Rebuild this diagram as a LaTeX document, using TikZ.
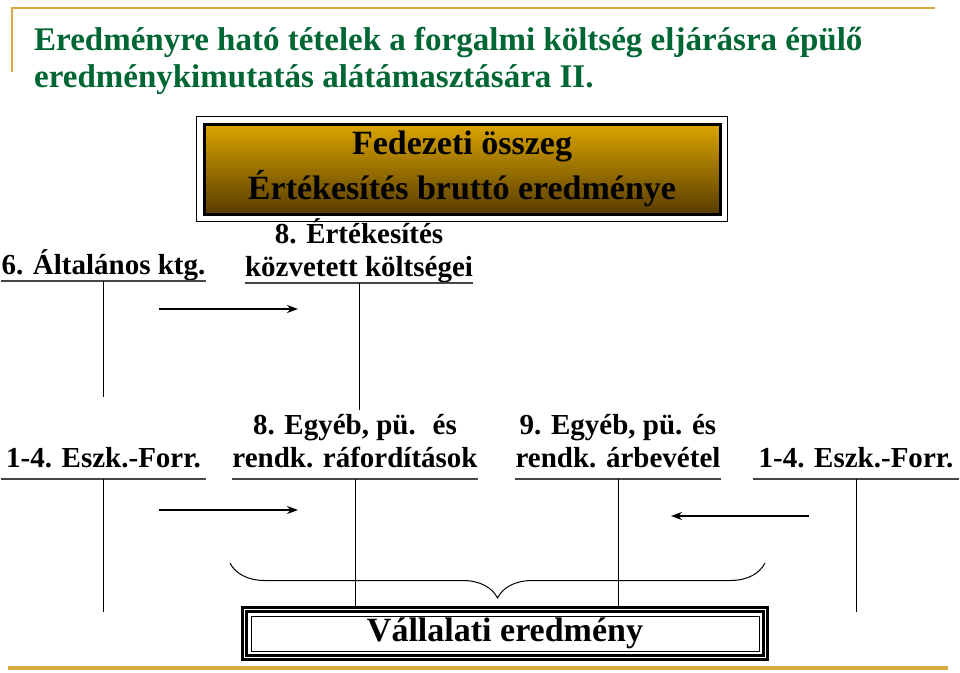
\documentclass[tikz,border=0pt]{standalone}
\usepackage{fontspec}
\setmainfont{Liberation Serif}
\usetikzlibrary{arrows.meta,positioning,decorations.pathreplacing,calc}
\definecolor{titleGreen}{RGB}{0,102,51}
\definecolor{frameGold}{RGB}{212,170,60}
\definecolor{boxGoldTop}{RGB}{218,164,0}
\definecolor{boxGoldBot}{RGB}{88,60,0}
\definecolor{ruleGray}{RGB}{70,70,70}

\begin{document}
\begin{tikzpicture}[x=1pt, y=-1pt,
  acct/.style={font=\fontsize{29}{33}\selectfont\bfseries, align=center, anchor=south,
               inner xsep=0pt, inner ysep=2pt, text depth=9pt},
  uline/.style={ruleGray, line width=1.6pt},
  tline/.style={black, line width=0.9pt},
  flow/.style={-{Stealth[length=11pt,width=8pt]}, line width=1.8pt},
  goldbox/.style={draw=black, line width=3pt, top color=boxGoldTop, bottom color=boxGoldBot,
                  font=\fontsize{34}{45}\selectfont\bfseries, align=center,
                  minimum width=516pt, minimum height=90pt, inner sep=0pt},
  resbox/.style={draw=black, line width=1pt, fill=white,
                 font=\fontsize{34}{36}\selectfont\bfseries,
                 minimum width=508pt, minimum height=35pt, inner sep=0pt}
]
  \useasboundingbox (0,0) rectangle (960,672);

  \draw[frameGold, line width=2pt] (12,72) -- (12,8) -- (935,8);
  \draw[frameGold, line width=3.5pt] (8,668) -- (948,668);

  \node[anchor=north west, inner sep=0pt, align=left, text=titleGreen,
        font=\fontsize{33}{37}\selectfont\bfseries] (title) at (34,27)
    {Eredményre ható tételek a forgalmi költség eljárásra épülő\\
     eredménykimutatás alátámasztására II.};

  \node[goldbox] (gross) at (462,169) {Fedezeti összeg\\Értékesítés bruttó eredménye};
  \draw[black, line width=1.2pt] ([shift={(-6pt,6pt)}]gross.north west)
    rectangle ([shift={(6pt,-6pt)}]gross.south east);

  \node[acct, text depth=4pt, minimum width=205pt] (altal) at (103.5,281) {6. Általános ktg.};
  \node[acct, text depth=4pt, minimum width=228pt] (kozv)  at (359,283)
    {8. Értékesítés\\közvetett költségei};

  \node[acct, minimum width=205pt] (eszkL) at (103.5,479) {1-4. Eszk.-Forr.};
  \node[acct, minimum width=222pt] (raf)   at (355,479)   {8. Egyéb, pü.~ és\\rendk. ráfordítások};
  \node[acct, minimum width=200pt] (arb)   at (618,479)   {9. Egyéb, pü. és\\rendk. árbevétel};
  \node[acct, minimum width=206pt] (eszkR) at (856,479)   {1-4. Eszk.-Forr.};

  \node[resbox] (result) at (505,633.5) {Vállalati eredmény};
  \draw[black, line width=2.5pt] ([shift={(-4pt,4pt)}]result.north west)
    rectangle ([shift={(4pt,-4pt)}]result.south east);
  \draw[black, line width=2.5pt] ([shift={(-8pt,8pt)}]result.north west)
    rectangle ([shift={(8pt,-8pt)}]result.south east);

  \foreach \n in {altal,kozv,eszkL,raf,arb,eszkR}
    \draw[uline] (\n.south west) -- (\n.south east);

  \coordinate (altalEnd) at (103.5,397);
  \coordinate (kozvEnd)  at (359,410);
  \coordinate (eszkLEnd) at (103.5,612);
  \coordinate (eszkREnd) at (856,612);
  \draw[tline] (altal.south) -- (altalEnd);
  \draw[tline] (kozv.south)  -- (kozvEnd);
  \draw[tline] (eszkL.south) -- (eszkLEnd);
  \draw[tline] (eszkR.south) -- (eszkREnd);
  \draw[tline] (raf.south) -- ([yshift=8pt]result.north -| raf.south);
  \draw[tline] (arb.south) -- ([yshift=8pt]result.north -| arb.south);

  \coordinate (f1a) at (159,309);  \coordinate (f1b) at (298,309);
  \coordinate (f2a) at (159,510);  \coordinate (f2b) at (298,510);
  \coordinate (f3a) at (809,516);  \coordinate (f3b) at (671,516);
  \draw[flow] (f1a) -- (f1b);
  \draw[flow] (f2a) -- (f2b);
  \draw[flow] (f3a) -- (f3b);

  \coordinate (brL) at (230,563);
  \coordinate (brR) at (765,563);
  \draw[line width=1pt, decorate, decoration={brace, mirror, amplitude=35pt}] (brL) -- (brR);
\end{tikzpicture}
\end{document}
